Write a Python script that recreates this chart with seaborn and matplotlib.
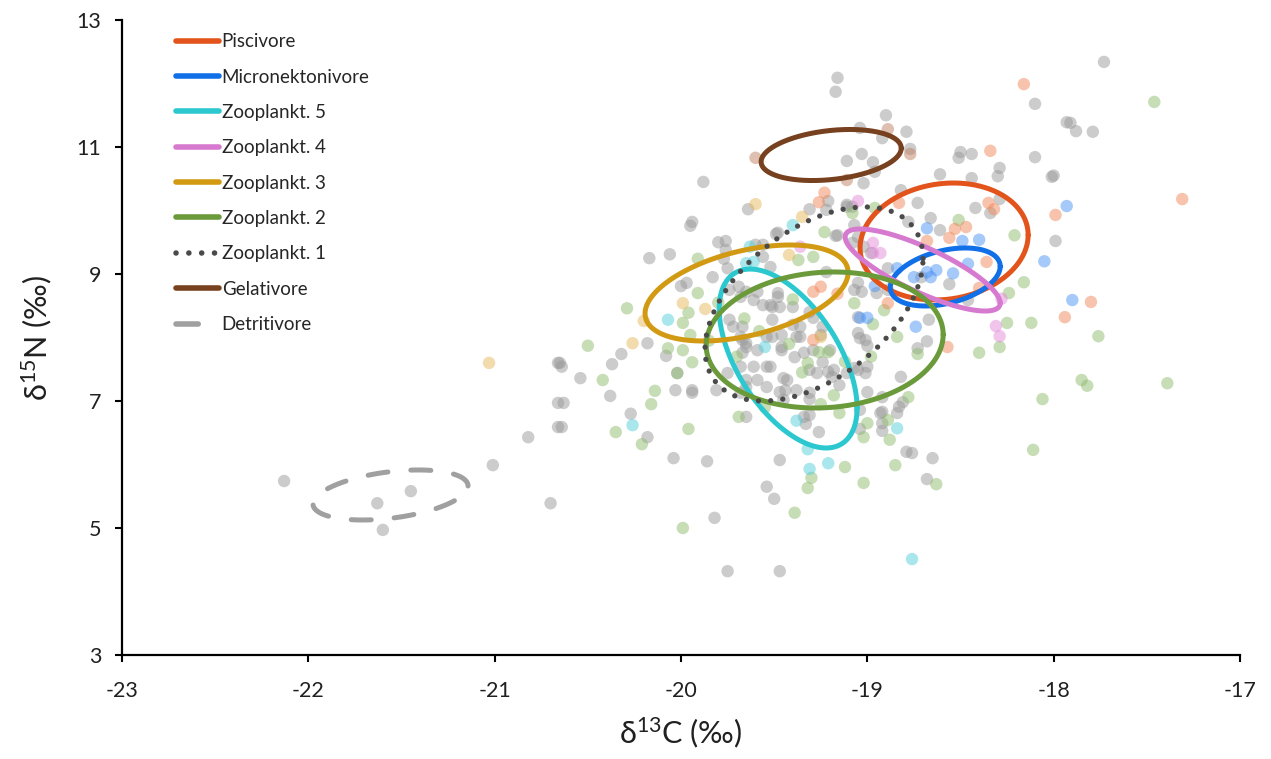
import numpy as np
import pandas as pd
import matplotlib
matplotlib.use("Agg")
import matplotlib.pyplot as plt
import seaborn as sns

# ---------------- data ----------------
gray_x = [-22.13, -21.63, -21.45, -21.60, -21.01, -20.82, -20.70, -20.66, -20.66, -20.66,
          -19.88, -19.64, -19.94, -19.95, -20.17, -20.06, -19.80, -19.76, -19.76, -19.83,
          -19.77, -19.75, -20.00, -19.97, -20.18, -20.32, -20.37, -20.65, -20.64, -20.54,
          -20.38, -20.63, -20.03, -19.94, -19.94, -20.02, -20.08, -20.64, -20.27, -20.18,
          -20.04, -19.86, -19.47, -19.65, -19.54, -19.50, -19.82, -19.75, -19.47, -18.79,
          -18.76, -18.65, -18.68, -19.26, -19.33, -19.04, -18.92, -18.92, -19.16, -19.17,
          -18.90, -19.04, -18.79, -18.77, -18.92, -19.03, -19.11, -18.97, -18.96, -19.02,
          -18.10, -18.10, -18.50, -18.51, -18.44, -18.29, -18.30, -18.61, -18.44, -18.82,
          -18.73, -19.21, -19.31, -19.11, -19.22, -19.49, -19.17, -19.07, -18.78, -18.66,
          -18.61, -18.42, -18.34, -18.29, -17.73, -17.93, -17.91, -17.88, -17.79, -18.01,
          -18.00, -17.99, -18.56, -18.46, -18.89, -18.71, -18.67, -18.73, -18.68, -18.82,
          -19.05, -19.05, -19.04, -19.01, -19.00, -19.07, -19.01, -18.83, -18.84, -18.92,
          -19.54, -19.46, -19.39, -19.45, -19.31, -19.21, -19.19, -19.15, -19.44, -19.45,
          -19.31, -19.36, -19.24, -19.25, -19.40, -19.36, -19.31, -19.29, -19.46, -19.52,
          -19.47, -19.40, -19.22, -19.05, -19.07, -18.95, -19.03, -18.89, -19.74, -19.69,
          -19.68, -19.65, -19.61, -19.59, -19.56, -19.51, -19.48, -19.74, -19.72, -19.68,
          -19.67, -19.65, -19.59, -19.54, -19.51, -19.75, -19.68, -19.61, -19.59, -19.52,
          -19.65, -19.54, -19.48, -19.60, -19.56, -19.52, -19.48, -19.11, -19.08, -19.16,
          -19.56, -19.08, -19.05, -19.02, -18.98, -19.67, -19.65, -19.67, -19.51, -19.46,
          -19.38, -19.34, -19.29, -19.24, -19.20, -19.18, -19.11, -19.05, -19.00, -19.43,
          -19.47, -19.38, -19.31, -19.27, -19.65, -19.81, -19.68, -19.34, -19.31, -19.04,
          -18.93, -18.81, -18.92, -19.00]
gray_y = [5.74, 5.39, 5.58, 4.97, 5.99, 6.43, 5.39, 7.60, 6.97, 6.59,
          10.45, 10.02, 9.82, 9.76, 9.25, 9.31, 9.50, 9.52, 9.38, 8.95,
          9.24, 9.09, 8.81, 8.86, 7.91, 7.74, 7.58, 7.60, 7.54, 7.36,
          7.08, 6.97, 7.17, 7.17, 7.13, 7.44, 7.71, 6.59, 6.80, 6.43,
          6.10, 6.05, 6.07, 6.75, 5.65, 5.46, 5.16, 4.32, 4.32, 6.20,
          6.18, 6.10, 5.77, 6.51, 6.64, 6.56, 6.65, 6.53, 12.09, 11.87,
          11.50, 11.30, 11.24, 10.97, 11.14, 10.89, 10.78, 10.76, 10.61, 10.43,
          11.68, 10.84, 10.92, 10.83, 10.89, 10.67, 10.54, 10.57, 10.51, 10.32,
          10.12, 10.15, 10.02, 10.09, 10.01, 9.63, 9.60, 9.77, 9.82, 9.88,
          9.69, 10.04, 9.96, 10.18, 12.34, 11.39, 11.38, 11.25, 11.24, 10.53,
          10.55, 9.52, 8.84, 8.59, 9.09, 8.95, 8.28, 7.83, 7.94, 7.38,
          8.32, 8.07, 7.99, 7.96, 7.87, 7.52, 7.44, 6.91, 6.81, 6.83,
          7.54, 7.80, 7.69, 7.36, 7.49, 7.46, 7.38, 7.25, 7.17, 7.02,
          7.03, 8.01, 8.17, 8.04, 8.20, 8.17, 8.40, 8.31, 8.04, 8.51,
          8.48, 8.48, 9.03, 8.86, 8.75, 8.70, 8.72, 8.75, 8.75, 8.80,
          8.64, 8.72, 8.59, 8.72, 8.51, 8.48, 8.64, 8.28, 8.17, 8.01,
          7.96, 7.85, 7.80, 8.01, 8.28, 7.44, 7.54, 7.54, 7.33, 7.54,
          7.22, 7.22, 9.65, 9.46, 9.46, 9.11, 8.70, 10.06, 10.06, 9.61,
          9.27, 9.49, 9.58, 9.43, 9.33, 8.17, 7.91, 7.76, 8.01, 7.85,
          8.01, 7.76, 7.80, 7.61, 7.80, 7.49, 7.44, 7.49, 7.54, 7.33,
          7.14, 7.17, 7.13, 7.44, 7.33, 7.17, 7.13, 6.75, 6.78, 6.86,
          6.81, 6.98, 7.06, 7.14]

green_x = [-19.91, -19.91, -20.29, -19.96, -19.99, -20.50, -20.42, -20.14, -20.16, -19.94,
           -20.02, -20.07, -19.99, -19.95, -20.35, -20.21, -19.96, -19.69, -19.39, -19.99,
           -19.30, -19.32, -19.12, -19.02, -18.63, -18.85, -18.11, -19.02, -19.00, -18.88,
           -19.08, -18.96, -19.23, -18.51, -18.21, -17.46, -18.16, -18.12, -17.76, -17.85,
           -17.82, -17.39, -18.06, -18.29, -18.40, -18.25, -18.24, -18.73, -18.84, -18.78,
           -19.07, -18.97, -18.91, -19.32, -19.26, -19.21, -19.18, -19.37, -19.29, -19.15,
           -18.89, -19.66, -19.58, -19.42, -19.35, -19.12, -19.70, -19.55, -19.25, -18.98,
           -19.40, -19.80, -19.85]
green_y = [9.24, 8.70, 8.46, 8.39, 8.23, 7.87, 7.33, 7.16, 6.95, 7.61,
           7.44, 7.83, 7.80, 8.04, 6.51, 6.32, 6.56, 6.75, 5.24, 5.00,
           5.79, 5.63, 5.96, 5.71, 5.69, 5.99, 6.23, 6.43, 6.65, 6.39,
           9.96, 10.04, 9.66, 9.85, 9.61, 11.71, 8.87, 8.23, 8.02, 7.33,
           7.24, 7.28, 7.03, 7.85, 7.76, 8.23, 8.70, 7.74, 8.01, 7.06,
           8.54, 8.21, 8.43, 7.60, 7.77, 7.77, 7.09, 9.22, 9.27, 6.81,
           6.70, 8.30, 8.10, 7.90, 7.45, 7.62, 7.70, 6.90, 6.95, 7.70,
           8.60, 8.55, 7.95]

orange_x = [-18.16, -18.34, -19.23, -19.26, -18.83, -18.53, -18.47, -18.56, -18.35, -18.32,
            -18.68, -17.31, -17.99, -17.80, -17.94, -18.57, -18.36, -18.40, -18.89, -19.25,
            -19.29, -19.16, -19.29]
orange_y = [11.99, 10.94, 10.28, 10.13, 10.12, 9.71, 9.74, 9.57, 10.12, 10.02,
            9.52, 10.18, 9.93, 8.56, 8.32, 7.85, 9.19, 8.78, 8.54, 8.80,
            8.72, 8.69, 7.96]

blue_x = [-18.68, -18.49, -18.40, -17.93, -18.05, -17.90, -18.46, -18.54, -18.63, -18.66,
          -18.68, -18.75, -18.84, -18.96, -19.04, -19.00, -18.74]
blue_y = [9.72, 9.52, 9.54, 10.07, 9.20, 8.59, 9.16, 9.01, 9.06, 8.95,
          9.03, 8.95, 9.09, 8.81, 8.31, 8.31, 8.17]

cyan_x = [-20.07, -19.40, -20.26, -19.38, -19.32, -19.31, -19.21, -18.84, -18.76, -19.55,
          -19.63, -19.65, -19.61]
cyan_y = [8.28, 9.77, 6.62, 6.69, 6.24, 5.93, 6.02, 6.57, 4.51, 7.85,
          9.43, 9.17, 9.19]

pink_x = [-19.05, -18.97, -19.36, -18.97, -18.93, -18.31, -18.29, -18.28]
pink_y = [10.15, 9.49, 9.43, 9.33, 9.33, 8.18, 8.02, 8.61]

yellow_x = [-19.60, -19.99, -19.87, -20.20, -20.26, -21.03, -19.35, -19.42, -19.25]
yellow_y = [10.10, 8.54, 8.45, 8.26, 7.91, 7.60, 9.90, 9.30, 8.01]

brown_x = [-19.60, -18.89, -18.77, -19.11]
brown_y = [10.83, 11.28, 10.89, 10.48]

# ellipses: centre, half x-extent, half y-extent, x-offset of the top point
groups = ["Piscivore", "Micronektonivore", "Zooplankt. 5", "Zooplankt. 4", "Zooplankt. 3",
          "Zooplankt. 2", "Zooplankt. 1", "Gelativore", "Detritivore"]
ell_cx = [-18.588, -18.582, -19.425, -18.703, -19.648, -19.229, -19.286, -19.194, -21.559]
ell_cy = [9.512, 8.953, 7.669, 9.063, 8.701, 7.961, 8.528, 10.874, 5.520]
ell_hx = [0.451, 0.295, 0.370, 0.416, 0.545, 0.636, 0.585, 0.376, 0.416]
ell_hy = [0.921, 0.457, 1.409, 0.646, 0.756, 1.071, 1.528, 0.402, 0.394]
ell_tx = [0.05, 0.107, -0.204, -0.335, 0.233, 0.05, 0.274, 0.10, 0.15]

ell_colors = ["#E2541B", "#1170E8", "#2CC8D0", "#D67AD0", "#D29A12",
              "#6A9A3A", "#4a4a4a", "#77401E", "#A0A0A0"]
ell_styles = ["-", "-", "-", "-", "-", "-", (0, (0.01, 2.3)), "-", (0, (4.0, 4.6))]

# ---------------- figure ----------------
sns.set_theme(style="ticks")
plt.rcParams["font.family"] = ["Lato", "DejaVu Sans"]
plt.rcParams["mathtext.default"] = "regular"
plt.rcParams["axes.unicode_minus"] = False

fig = plt.figure(figsize=(12.71, 7.59), dpi=100)
ax = fig.add_axes([122 / 1271, 104 / 759, 1118 / 1271, 635 / 759])

pts = pd.concat([
    pd.DataFrame({"x": gray_x, "y": gray_y, "g": "gray"}),
    pd.DataFrame({"x": green_x, "y": green_y, "g": "green"}),
    pd.DataFrame({"x": orange_x, "y": orange_y, "g": "orange"}),
    pd.DataFrame({"x": blue_x, "y": blue_y, "g": "blue"}),
    pd.DataFrame({"x": cyan_x, "y": cyan_y, "g": "cyan"}),
    pd.DataFrame({"x": pink_x, "y": pink_y, "g": "pink"}),
    pd.DataFrame({"x": yellow_x, "y": yellow_y, "g": "yellow"}),
    pd.DataFrame({"x": brown_x, "y": brown_y, "g": "brown"}),
], ignore_index=True)
pal = {"gray": "#9a9a9a", "green": "#8fbc6f", "orange": "#f0885a", "blue": "#4d94f5",
       "cyan": "#55d0dd", "pink": "#e28ad8", "yellow": "#e6b85a", "brown": "#c08060"}
sns.scatterplot(data=pts, x="x", y="y", hue="g", palette=pal, s=80, alpha=0.5,
                edgecolor="none", legend=False, ax=ax, zorder=1)


def ellipse(cx, cy, hx, hy, tx, n=500):
    sxy = tx * hy
    S = np.array([[hx ** 2, sxy], [sxy, hy ** 2]])
    L = np.linalg.cholesky(S)
    t = np.linspace(0, 2 * np.pi, n)
    p = L @ np.vstack([np.cos(t), np.sin(t)])
    return cx + p[0], cy + p[1]


for i, name in enumerate(groups):
    ex, ey = ellipse(ell_cx[i], ell_cy[i], ell_hx[i], ell_hy[i], ell_tx[i])
    lw = 3.6 if name != "Zooplankt. 1" else 3.8
    ax.plot(ex, ey, color=ell_colors[i], ls=ell_styles[i], lw=lw,
            solid_capstyle="round", dash_capstyle="round", label=name, zorder=3)

ax.set_xlim(-23, -17)
ax.set_ylim(3, 13)
ax.set_xticks(range(-23, -16))
ax.set_yticks([3, 5, 7, 9, 11, 13])
ax.tick_params(axis="both", direction="out", length=5, width=1.5, labelsize=15.5,
               color="black", labelcolor="#202020")
ax.tick_params(axis="x", pad=14)
ax.tick_params(axis="y", pad=10)
for s in ("left", "bottom"):
    ax.spines[s].set_linewidth(1.6)
    ax.spines[s].set_color("black")
ax.spines["top"].set_visible(False)
ax.spines["right"].set_visible(False)

ax.set_xlabel("δ$^{13}$C (‰)", fontsize=22, labelpad=10, color="#202020")
ax.set_ylabel("δ$^{15}$N (‰)", fontsize=22, labelpad=16, color="#202020")

leg = ax.legend(loc="upper left", bbox_to_anchor=(0.038, 0.997), frameon=False, fontsize=13.5,
                handlelength=2.3, handletextpad=0.15, labelspacing=0.98, borderaxespad=0.2)
for ln in leg.get_lines():
    ln.set_linewidth(4)

fig.savefig("out.png", dpi=100)
